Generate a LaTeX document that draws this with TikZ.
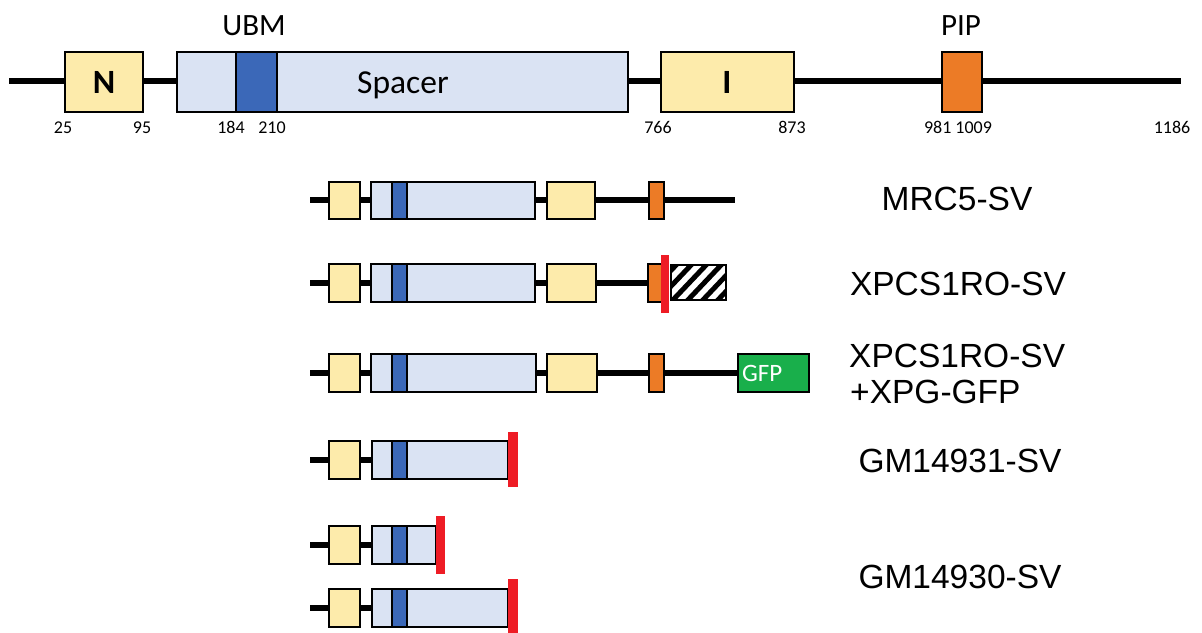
\documentclass[tikz,border=0pt]{standalone}
\usepackage{fontspec}
\setmainfont{Liberation Sans}
\newfontfamily\calfont{Carlito}
\definecolor{nyellow}{HTML}{FDEBAB}
\definecolor{spblue}{HTML}{DAE3F3}
\definecolor{ubmblue}{HTML}{3B68B8}
\definecolor{piporange}{HTML}{EC7B26}
\definecolor{redc}{HTML}{EE1C25}
\definecolor{gfpgreen}{HTML}{19AF4B}
\tikzset{
  bb/.style={line width=6pt, draw=black},
  ybox/.style={fill=nyellow, draw=black, line width=2pt},
  sbox/.style={fill=spblue, draw=black, line width=2pt},
  ubox/.style={fill=ubmblue, draw=black, line width=2pt},
  pbox/.style={fill=piporange, draw=black, line width=2pt},
  gbox/.style={fill=gfpgreen, draw=black, line width=2pt},
  redbar/.style={fill=redc, draw=none},
  numlab/.style={anchor=base, inner sep=0pt, font=\calfont\fontsize{18}{20}\selectfont},
  toplab/.style={anchor=base, inner sep=0pt, font=\calfont\fontsize{31}{36}\selectfont},
  celllab/.style={anchor=base, inner sep=0pt, font=\fontsize{33.5}{40}\selectfont},
  celllabw/.style={anchor=base west, inner sep=0pt, font=\fontsize{33.5}{40}\selectfont},
}
\begin{document}
\begin{tikzpicture}[x=1pt, y=-1pt]
\useasboundingbox (0,0) rectangle (1202,632);
% ---------- full-length protein ----------
\coordinate (t0) at (9,81);
\coordinate (t1) at (1181,81);
\draw[bb] (t0) -- (t1);
\path[ybox] (65,52) rectangle (143,112);
\path[sbox] (177,52) rectangle (628,112);
\path[ubox] (236,52) rectangle (277,112);
\path[ybox] (661,52) rectangle (794,112);
\path[pbox] (942,52) rectangle (982,112);
\node[anchor=base, inner sep=0pt, font=\calfont\bfseries\fontsize{34}{38}\selectfont] (nlab) at (104,93) {N};
\node[anchor=base, inner sep=0pt, font=\calfont\bfseries\fontsize{34}{38}\selectfont] (ilab) at (727,93) {I};
\node[anchor=base, inner sep=0pt, font=\calfont\fontsize{33.5}{38}\selectfont] (splab) at (403,93) {Spacer};
\node[toplab] (ubmlab) at (254,35) {UBM};
\node[toplab] (piplab) at (961,35) {PIP};
\node[numlab] (n25) at (63,133) {25};
\node[numlab] (n95) at (142,133) {95};
\node[numlab] (n184) at (231,133) {184};
\node[numlab] (n210) at (272,133) {210};
\node[numlab] (n766) at (658,133) {766};
\node[numlab] (n873) at (792,133) {873};
\node[numlab] (n981) at (958,133) {981 1009};
\node[numlab] (n1186) at (1172,133) {1186};
% ---------- MRC5-SV ----------
\coordinate (a0) at (310,200);
\coordinate (a1) at (735,200);
\draw[bb] (a0) -- (a1);
\path[ybox] (329,182) rectangle (360,219);
\path[sbox] (371,182) rectangle (535,219);
\path[ubox] (392,182) rectangle (407,219);
\path[ybox] (547,182) rectangle (595,219);
\path[pbox] (649,182) rectangle (664,219);
\node[celllab] (l1) at (957,210) {MRC5-SV};
% ---------- XPCS1RO-SV ----------
\coordinate (b0) at (310,283);
\coordinate (b1) at (655,283);
\draw[bb] (b0) -- (b1);
\path[ybox] (329,264) rectangle (360,302);
\path[sbox] (371,264) rectangle (535,302);
\path[ubox] (392,264) rectangle (407,302);
\path[ybox] (547,264) rectangle (596,302);
\path[pbox] (648,264) rectangle (663,302);
\begin{scope}
  \clip (671,265) rectangle (726,300);
  \fill[white] (671,265) rectangle (726,300);
  \foreach \k in {-3,...,4}
    \draw[line width=5pt] (671+15*\k,302) -- (671+15*\k+37,263);
\end{scope}
\draw[line width=2pt] (671,265) rectangle (726,300);
\path[redbar] (661,255) rectangle (669,313);
\node[celllab] (l2) at (958,295) {XPCS1RO-SV};
% ---------- XPCS1RO-SV + XPG-GFP ----------
\coordinate (c0) at (310,373);
\coordinate (c1) at (738,373);
\draw[bb] (c0) -- (c1);
\path[ybox] (329,354) rectangle (360,392);
\path[sbox] (371,354) rectangle (536,392);
\path[ubox] (392,354) rectangle (407,392);
\path[ybox] (547,354) rectangle (597,392);
\path[pbox] (649,354) rectangle (664,392);
\path[gbox] (738,354) rectangle (809,392);
\node[anchor=west, inner sep=0pt, text=white, font=\calfont\fontsize{25}{28}\selectfont] (gfplab) at (742,373) {GFP};
\node[celllabw] (l3a) at (849,367) {XPCS1RO-SV};
\node[celllabw] (l3b) at (850,403) {+XPG-GFP};
% ---------- GM14931-SV ----------
\coordinate (d0) at (310,460);
\coordinate (d1) at (372,460);
\draw[bb] (d0) -- (d1);
\path[ybox] (329,441) rectangle (360,479);
\path[sbox] (372,441) rectangle (508,479);
\path[ubox] (392,441) rectangle (407,479);
\path[redbar] (508,432) rectangle (518,487);
\node[celllab] (l4) at (960,472) {GM14931-SV};
% ---------- GM14930-SV (short) ----------
\coordinate (e0) at (310,545);
\coordinate (e1) at (372,545);
\draw[bb] (e0) -- (e1);
\path[ybox] (329,526) rectangle (360,564);
\path[sbox] (372,526) rectangle (436,564);
\path[ubox] (392,526) rectangle (407,564);
\path[redbar] (436,516) rectangle (445,574);
% ---------- GM14930-SV (long) ----------
\coordinate (f0) at (310,608);
\coordinate (f1) at (372,608);
\draw[bb] (f0) -- (f1);
\path[ybox] (329,589) rectangle (360,627);
\path[sbox] (372,589) rectangle (508,627);
\path[ubox] (392,589) rectangle (407,627);
\path[redbar] (508,579) rectangle (518,640);
\node[celllab] (l5) at (960,588) {GM14930-SV};
\end{tikzpicture}
\end{document}
